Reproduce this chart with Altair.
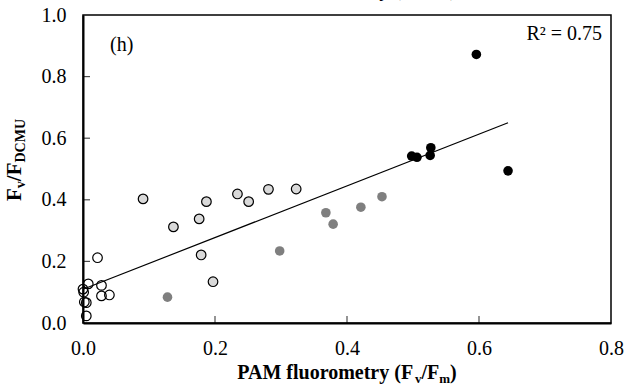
import altair as alt
import pandas as pd

# ---------------- data ----------------
OPEN_X = [0.000, 0.001, 0.008, 0.022, 0.028, 0.028, 0.040, 0.002, 0.005, 0.005]
OPEN_Y = [0.110, 0.100, 0.127, 0.212, 0.122, 0.088, 0.091, 0.068, 0.066, 0.023]

LIGHT_X = [0.091, 0.137, 0.176, 0.187, 0.234, 0.251, 0.281, 0.323, 0.179, 0.197]
LIGHT_Y = [0.403, 0.312, 0.338, 0.394, 0.419, 0.394, 0.434, 0.435, 0.221, 0.134]

DARK_X = [0.128, 0.298, 0.368, 0.379, 0.421, 0.453]
DARK_Y = [0.084, 0.234, 0.358, 0.321, 0.376, 0.410]

BLACK_X = [0.498, 0.506, 0.527, 0.526, 0.596, 0.644]
BLACK_Y = [0.542, 0.538, 0.569, 0.544, 0.872, 0.494]

X_TICKS = [0.0, 0.2, 0.4, 0.6, 0.8]
Y_TICKS = [0.0, 0.2, 0.4, 0.6, 0.8, 1.0]

PANEL_LABEL = "(h)"
R2_LABEL = "R\u00b2 = 0.75"
X_TITLE_RUNS = [("PAM fluorometry (F", False), ("v", True), ("/F", False), ("m", True), (")", False)]
Y_TITLE_RUNS = [("F", False), ("v", True), ("/F", False), ("DCMU", True)]

# ---------------- layout ----------------
W, H = 528, 308
PAD = {"left": 83, "top": 15, "right": 15, "bottom": 62}
SERIF = "Liberation Serif"
MAIN_FS, SUB_FS, SUB_SHIFT = 20, 13, 4

# Times-compatible bold advance widths (per 1000 em) for run placement
BOLD_W = {" ": 250, "(": 333, ")": 333, "/": 278, "A": 722, "C": 722, "D": 722,
          "F": 611, "M": 944, "P": 611, "U": 722, "e": 444, "f": 333, "l": 278,
          "m": 833, "o": 500, "r": 444, "t": 333, "u": 556, "v": 500, "y": 500}


def run_width(text, fs):
    return sum(BOLD_W.get(c, 500) for c in text) / 1000.0 * fs


def layout_runs(runs, main_fs=MAIN_FS, sub_fs=SUB_FS):
    rows, pos = [], 0.0
    for text, sub in runs:
        fs = sub_fs if sub else main_fs
        rows.append({"t": text, "fs": fs, "off": pos, "sub": sub})
        pos += run_width(text, fs)
    return rows, pos


xs = alt.Scale(domain=[0, 0.8], nice=False, zero=False)
ys = alt.Scale(domain=[0, 1.0], nice=False, zero=False)

x_axis = alt.Axis(values=X_TICKS, format=".1f", ticks=False, grid=False, title=None,
                  labelFont=SERIF, labelFontSize=MAIN_FS, labelColor="black",
                  labelFlush=False, labelOverlap=False,
                  labelPadding=15, domainColor="black", domainWidth=2)
y_axis = alt.Axis(values=Y_TICKS, format=".1f", ticks=False, grid=False, title=None,
                  labelFont=SERIF, labelFontSize=MAIN_FS, labelColor="black",
                  labelFlush=False, labelOverlap=False,
                  labelPadding=17, domainColor="black", domainWidth=2)

frames = []
for name, xv, yv in [("open", OPEN_X, OPEN_Y), ("light", LIGHT_X, LIGHT_Y),
                     ("dark", DARK_X, DARK_Y), ("black", BLACK_X, BLACK_Y)]:
    frames.append(pd.DataFrame({"x": xv, "y": yv, "g": name}))
df = pd.concat(frames, ignore_index=True)

X = alt.X("x:Q", scale=xs, axis=x_axis)
Y = alt.Y("y:Q", scale=ys, axis=y_axis)

trend = alt.Chart(df).transform_regression("x", "y").mark_line(
    color="black", strokeWidth=1.2).encode(x=X, y=Y)

SZ = 92
open_pts = alt.Chart(df[df.g == "open"]).mark_point(
    filled=False, color="black", strokeWidth=1.2, size=SZ, opacity=1).encode(x=X, y=Y)
light_pts = alt.Chart(df[df.g == "light"]).mark_circle(
    color="#D9D9D9", stroke="black", strokeWidth=1.2, size=SZ, opacity=1).encode(x=X, y=Y)
dark_pts = alt.Chart(df[df.g == "dark"]).mark_circle(
    color="#7F7F7F", size=SZ, opacity=1).encode(x=X, y=Y)
black_pts = alt.Chart(df[df.g == "black"]).mark_circle(
    color="black", size=SZ, opacity=1).encode(x=X, y=Y)

# inward tick marks (share the same scales/axes as the points)
tick_x_df = pd.DataFrame({"x": X_TICKS[1:-1]})
tick_y_df = pd.DataFrame({"y": Y_TICKS[1:-1]})
xt = alt.Chart(tick_x_df).mark_tick(color="black", thickness=1.2, size=7).encode(
    x=X, y=alt.value(H - 3.5))
yt = alt.Chart(tick_y_df).mark_tick(color="black", thickness=1.2, size=7).encode(
    y=Y, x=alt.value(3.5))

panel = alt.Chart(pd.DataFrame({"t": [PANEL_LABEL]})).mark_text(
    font=SERIF, fontSize=MAIN_FS, align="left", baseline="middle", color="black").encode(
    text="t:N", x=alt.value(27), y=alt.value(30))
r2 = alt.Chart(pd.DataFrame({"t": [R2_LABEL]})).mark_text(
    font=SERIF, fontSize=MAIN_FS, align="right", baseline="middle", color="black").encode(
    text="t:N", x=alt.value(519), y=alt.value(19))


def x_title_layers(center_x, baseline_y):
    rows, total = layout_runs(X_TITLE_RUNS)
    start = center_x - total / 2
    layers = []
    for r in rows:
        layers.append(alt.Chart(pd.DataFrame({"t": [r["t"]]})).mark_text(
            font=SERIF, fontWeight="bold", fontSize=r["fs"], align="left",
            baseline="alphabetic", color="black").encode(
            text="t:N", x=alt.value(start + r["off"]),
            y=alt.value(baseline_y + (SUB_SHIFT if r["sub"] else 0))))
    return layers


def y_title_layers(center_y, baseline_x):
    rows, total = layout_runs(Y_TITLE_RUNS, 21, 14)
    start = center_y + total / 2
    layers = []
    for r in rows:
        layers.append(alt.Chart(pd.DataFrame({"t": [r["t"]]})).mark_text(
            font=SERIF, fontWeight="bold", fontSize=r["fs"], align="left",
            baseline="alphabetic", angle=270, color="black").encode(
            text="t:N", x=alt.value(baseline_x + (SUB_SHIFT if r["sub"] else 0)),
            y=alt.value(start - r["off"])))
    return layers


titles = x_title_layers(W / 2, 364) + x_title_layers(W / 2, -19) + y_title_layers(145, -62)

chart = alt.layer(trend, open_pts, light_pts, dark_pts, black_pts, xt, yt, panel, r2, *titles).properties(
    width=W, height=H, autosize=alt.AutoSizeParams(type="none"), padding=PAD,
    background="white"
).configure_view(stroke="black", strokeWidth=1.5)

chart.save("out.html", embed_options={"renderer": "svg", "actions": False})
